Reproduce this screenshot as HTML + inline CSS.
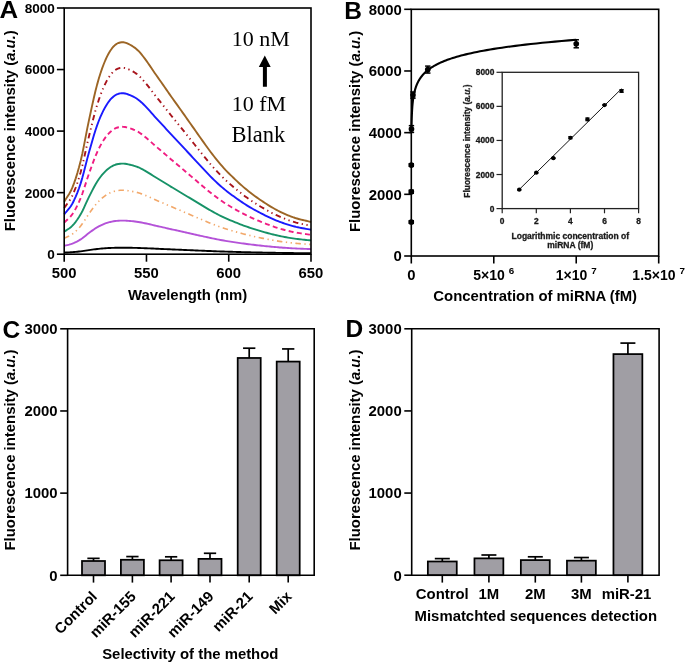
<!DOCTYPE html>
<html><head><meta charset="utf-8"><style>
html,body{margin:0;padding:0;background:#fff;}
body{width:685px;height:662px;overflow:hidden;}
svg{display:block;will-change:transform;}
</style></head><body>
<svg width="685" height="662" viewBox="0 0 685 662" font-family="Liberation Sans, sans-serif">
<rect width="685" height="662" fill="#fff"/>
<g fill="none" stroke-width="1.9" stroke-linejoin="round">
<polyline points="64.20,201.63 65.85,198.99 67.49,196.54 69.14,193.99 70.78,191.05 72.43,187.43 74.07,183.13 75.72,178.37 77.36,173.11 79.01,167.31 80.65,160.93 82.30,153.69 83.94,145.61 85.59,137.12 87.23,128.66 88.88,120.65 90.53,112.99 92.17,105.37 93.82,97.99 95.46,91.01 97.11,84.62 98.75,78.83 100.40,73.52 102.04,68.67 103.69,64.25 105.33,60.24 106.98,56.65 108.62,53.51 110.27,50.78 111.91,48.44 113.56,46.46 115.21,44.89 116.85,43.75 118.50,42.97 120.14,42.48 121.79,42.22 123.43,42.24 125.08,42.59 126.72,43.18 128.37,43.93 130.01,44.77 131.66,45.67 133.30,46.69 134.95,47.86 136.59,49.19 138.24,50.70 139.89,52.43 141.53,54.37 143.18,56.47 144.82,58.65 146.47,60.88 148.11,63.18 149.76,65.59 151.40,68.06 153.05,70.54 154.69,72.96 156.34,75.31 157.98,77.64 159.63,79.96 161.27,82.28 162.92,84.62 164.57,86.98 166.21,89.37 167.86,91.76 169.50,94.14 171.15,96.49 172.79,98.80 174.44,101.09 176.08,103.36 177.73,105.64 179.37,107.94 181.02,110.25 182.66,112.58 184.31,114.92 185.95,117.26 187.60,119.59 189.25,121.93 190.89,124.26 192.54,126.59 194.18,128.92 195.83,131.25 197.47,133.59 199.12,135.94 200.76,138.28 202.41,140.61 204.05,142.91 205.70,145.20 207.34,147.49 208.99,149.75 210.63,151.97 212.28,154.15 213.93,156.27 215.57,158.35 217.22,160.39 218.86,162.38 220.51,164.32 222.15,166.21 223.80,168.06 225.44,169.85 227.09,171.57 228.73,173.22 230.38,174.83 232.02,176.43 233.67,178.02 235.31,179.59 236.96,181.15 238.61,182.68 240.25,184.18 241.90,185.65 243.54,187.09 245.19,188.49 246.83,189.85 248.48,191.17 250.12,192.47 251.77,193.73 253.41,194.97 255.06,196.17 256.70,197.36 258.35,198.52 259.99,199.66 261.64,200.78 263.29,201.89 264.93,202.97 266.58,204.04 268.22,205.08 269.87,206.09 271.51,207.08 273.16,208.05 274.80,208.98 276.45,209.88 278.09,210.74 279.74,211.58 281.38,212.38 283.03,213.15 284.67,213.89 286.32,214.60 287.97,215.28 289.61,215.94 291.26,216.56 292.90,217.17 294.55,217.74 296.19,218.28 297.84,218.76 299.48,219.21 301.13,219.63 302.77,220.03 304.42,220.42 306.06,220.79 307.71,221.18 309.35,221.57 311.00,221.98" stroke="#9c6525"/>
<polyline points="64.20,207.96 65.85,205.63 67.49,203.48 69.14,201.24 70.78,198.65 72.43,195.46 74.07,191.69 75.72,187.50 77.36,182.87 79.01,177.77 80.65,172.16 82.30,165.79 83.94,158.68 85.59,151.21 87.23,143.77 88.88,136.73 90.53,129.98 92.17,123.29 93.82,116.79 95.46,110.65 97.11,105.03 98.75,99.93 100.40,95.26 102.04,91.00 103.69,87.11 105.33,83.58 106.98,80.43 108.62,77.66 110.27,75.26 111.91,73.20 113.56,71.46 115.21,70.09 116.85,69.08 118.50,68.39 120.14,67.96 121.79,67.73 123.43,67.75 125.08,68.06 126.72,68.58 128.37,69.24 130.01,69.97 131.66,70.77 133.30,71.67 134.95,72.69 136.59,73.86 138.24,75.19 139.89,76.72 141.53,78.42 143.18,80.26 144.82,82.19 146.47,84.14 148.11,86.17 149.76,88.29 151.40,90.47 153.05,92.64 154.69,94.77 156.34,96.84 157.98,98.89 159.63,100.93 161.27,102.97 162.92,105.03 164.57,107.11 166.21,109.21 167.86,111.31 169.50,113.40 171.15,115.47 172.79,117.50 174.44,119.52 176.08,121.52 177.73,123.52 179.37,125.54 181.02,127.58 182.66,129.63 184.31,131.68 185.95,133.74 187.60,135.79 189.25,137.85 190.89,139.90 192.54,141.95 194.18,144.00 195.83,146.05 197.47,148.11 199.12,150.17 200.76,152.23 202.41,154.28 204.05,156.31 205.70,158.32 207.34,160.33 208.99,162.32 210.63,164.28 212.28,166.19 213.93,168.06 215.57,169.89 217.22,171.68 218.86,173.43 220.51,175.14 222.15,176.80 223.80,178.42 225.44,180.00 227.09,181.52 228.73,182.97 230.38,184.38 232.02,185.79 233.67,187.19 235.31,188.57 236.96,189.94 238.61,191.28 240.25,192.61 241.90,193.90 243.54,195.17 245.19,196.40 246.83,197.59 248.48,198.76 250.12,199.90 251.77,201.01 253.41,202.09 255.06,203.16 256.70,204.20 258.35,205.22 259.99,206.22 261.64,207.21 263.29,208.18 264.93,209.14 266.58,210.07 268.22,210.99 269.87,211.88 271.51,212.76 273.16,213.60 274.80,214.42 276.45,215.21 278.09,215.97 279.74,216.71 281.38,217.41 283.03,218.09 284.67,218.74 286.32,219.37 287.97,219.97 289.61,220.54 291.26,221.09 292.90,221.62 294.55,222.13 296.19,222.60 297.84,223.03 299.48,223.42 301.13,223.79 302.77,224.14 304.42,224.48 306.06,224.81 307.71,225.15 309.35,225.50 311.00,225.86" stroke="#a8141c" stroke-dasharray="5.5 3.5 1.3 3.5 1.3 3.5"/>
<polyline points="64.20,214.28 65.85,212.27 67.49,210.41 69.14,208.48 70.78,206.24 72.43,203.49 74.07,200.23 75.72,196.62 77.36,192.62 79.01,188.21 80.65,183.37 82.30,177.87 83.94,171.73 85.59,165.29 87.23,158.86 88.88,152.78 90.53,146.96 92.17,141.18 93.82,135.57 95.46,130.27 97.11,125.41 98.75,121.01 100.40,116.98 102.04,113.30 103.69,109.95 105.33,106.90 106.98,104.18 108.62,101.79 110.27,99.71 111.91,97.94 113.56,96.44 115.21,95.25 116.85,94.38 118.50,93.79 120.14,93.41 121.79,93.22 123.43,93.23 125.08,93.49 126.72,93.94 128.37,94.51 130.01,95.15 131.66,95.83 133.30,96.61 134.95,97.50 136.59,98.51 138.24,99.66 139.89,100.97 141.53,102.44 143.18,104.03 144.82,105.69 146.47,107.38 148.11,109.13 149.76,110.96 151.40,112.84 153.05,114.72 154.69,116.56 156.34,118.35 157.98,120.12 159.63,121.87 161.27,123.64 162.92,125.41 164.57,127.21 166.21,129.02 167.86,130.84 169.50,132.64 171.15,134.43 172.79,136.18 174.44,137.92 176.08,139.65 177.73,141.38 179.37,143.12 181.02,144.88 182.66,146.65 184.31,148.43 185.95,150.20 187.60,151.98 189.25,153.75 190.89,155.52 192.54,157.29 194.18,159.06 195.83,160.83 197.47,162.61 199.12,164.39 200.76,166.16 202.41,167.93 204.05,169.68 205.70,171.42 207.34,173.16 208.99,174.88 210.63,176.57 212.28,178.22 213.93,179.83 215.57,181.41 217.22,182.96 218.86,184.47 220.51,185.94 222.15,187.38 223.80,188.78 225.44,190.14 227.09,191.45 228.73,192.70 230.38,193.93 232.02,195.14 233.67,196.35 235.31,197.54 236.96,198.72 238.61,199.88 240.25,201.02 241.90,202.14 243.54,203.23 245.19,204.29 246.83,205.33 248.48,206.33 250.12,207.32 251.77,208.28 253.41,209.22 255.06,210.13 256.70,211.03 258.35,211.91 259.99,212.78 261.64,213.63 263.29,214.47 264.93,215.29 266.58,216.10 268.22,216.89 269.87,217.67 271.51,218.42 273.16,219.15 274.80,219.86 276.45,220.54 278.09,221.20 279.74,221.83 281.38,222.44 283.03,223.02 284.67,223.59 286.32,224.13 287.97,224.64 289.61,225.14 291.26,225.62 292.90,226.07 294.55,226.51 296.19,226.92 297.84,227.29 299.48,227.63 301.13,227.95 302.77,228.25 304.42,228.54 306.06,228.83 307.71,229.12 309.35,229.42 311.00,229.73" stroke="#1a1aff"/>
<polyline points="64.20,222.61 65.85,221.02 67.49,219.55 69.14,218.02 70.78,216.26 72.43,214.08 74.07,211.50 75.72,208.64 77.36,205.47 79.01,201.99 80.65,198.15 82.30,193.80 83.94,188.95 85.59,183.85 87.23,178.76 88.88,173.95 90.53,169.35 92.17,164.77 93.82,160.33 95.46,156.14 97.11,152.30 98.75,148.82 100.40,145.63 102.04,142.71 103.69,140.06 105.33,137.65 106.98,135.49 108.62,133.60 110.27,131.96 111.91,130.56 113.56,129.37 115.21,128.43 116.85,127.74 118.50,127.27 120.14,126.98 121.79,126.82 123.43,126.83 125.08,127.04 126.72,127.40 128.37,127.85 130.01,128.35 131.66,128.89 133.30,129.51 134.95,130.21 136.59,131.01 138.24,131.92 139.89,132.96 141.53,134.12 143.18,135.38 144.82,136.69 146.47,138.03 148.11,139.41 149.76,140.87 151.40,142.35 153.05,143.84 154.69,145.29 156.34,146.71 157.98,148.11 159.63,149.50 161.27,150.89 162.92,152.30 164.57,153.72 166.21,155.15 167.86,156.59 169.50,158.02 171.15,159.43 172.79,160.82 174.44,162.19 176.08,163.56 177.73,164.93 179.37,166.31 181.02,167.70 182.66,169.10 184.31,170.51 185.95,171.91 187.60,173.32 189.25,174.72 190.89,176.12 192.54,177.52 194.18,178.92 195.83,180.32 197.47,181.73 199.12,183.14 200.76,184.54 202.41,185.94 204.05,187.33 205.70,188.70 207.34,190.08 208.99,191.44 210.63,192.77 212.28,194.08 213.93,195.35 215.57,196.61 217.22,197.83 218.86,199.03 220.51,200.19 222.15,201.33 223.80,202.44 225.44,203.51 227.09,204.55 228.73,205.54 230.38,206.51 232.02,207.47 233.67,208.42 235.31,209.37 236.96,210.30 238.61,211.22 240.25,212.12 241.90,213.01 243.54,213.87 245.19,214.71 246.83,215.53 248.48,216.33 250.12,217.10 251.77,217.86 253.41,218.61 255.06,219.33 256.70,220.04 258.35,220.74 259.99,221.43 261.64,222.10 263.29,222.76 264.93,223.42 266.58,224.06 268.22,224.68 269.87,225.29 271.51,225.89 273.16,226.47 274.80,227.03 276.45,227.57 278.09,228.09 279.74,228.59 281.38,229.07 283.03,229.53 284.67,229.98 286.32,230.40 287.97,230.81 289.61,231.21 291.26,231.58 292.90,231.95 294.55,232.29 296.19,232.61 297.84,232.91 299.48,233.18 301.13,233.43 302.77,233.67 304.42,233.90 306.06,234.13 307.71,234.36 309.35,234.59 311.00,234.84" stroke="#f01d82" stroke-dasharray="5 3.3"/>
<polyline points="64.20,231.74 65.85,230.61 67.49,229.56 69.14,228.48 70.78,227.22 72.43,225.67 74.07,223.84 75.72,221.80 77.36,219.55 79.01,217.07 80.65,214.35 82.30,211.25 83.94,207.80 85.59,204.18 87.23,200.56 88.88,197.14 90.53,193.87 92.17,190.61 93.82,187.46 95.46,184.47 97.11,181.74 98.75,179.27 100.40,177.00 102.04,174.93 103.69,173.04 105.33,171.33 106.98,169.80 108.62,168.45 110.27,167.28 111.91,166.28 113.56,165.44 115.21,164.77 116.85,164.28 118.50,163.95 120.14,163.74 121.79,163.63 123.43,163.64 125.08,163.79 126.72,164.04 128.37,164.36 130.01,164.72 131.66,165.10 133.30,165.54 134.95,166.04 136.59,166.61 138.24,167.25 139.89,167.99 141.53,168.82 143.18,169.71 144.82,170.65 146.47,171.60 148.11,172.58 149.76,173.61 151.40,174.67 153.05,175.73 154.69,176.76 156.34,177.77 157.98,178.76 159.63,179.75 161.27,180.74 162.92,181.74 164.57,182.75 166.21,183.77 167.86,184.80 169.50,185.81 171.15,186.82 172.79,187.80 174.44,188.78 176.08,189.75 177.73,190.73 179.37,191.71 181.02,192.70 182.66,193.69 184.31,194.69 185.95,195.69 187.60,196.69 189.25,197.68 190.89,198.68 192.54,199.68 194.18,200.67 195.83,201.67 197.47,202.67 199.12,203.67 200.76,204.67 202.41,205.67 204.05,206.65 205.70,207.63 207.34,208.61 208.99,209.57 210.63,210.52 212.28,211.45 213.93,212.36 215.57,213.25 217.22,214.12 218.86,214.97 220.51,215.80 222.15,216.61 223.80,217.39 225.44,218.16 227.09,218.90 228.73,219.60 230.38,220.29 232.02,220.97 233.67,221.65 235.31,222.32 236.96,222.99 238.61,223.64 240.25,224.28 241.90,224.91 243.54,225.53 245.19,226.12 246.83,226.70 248.48,227.27 250.12,227.82 251.77,228.36 253.41,228.89 255.06,229.41 256.70,229.91 258.35,230.41 259.99,230.90 261.64,231.38 263.29,231.85 264.93,232.31 266.58,232.77 268.22,233.21 269.87,233.65 271.51,234.07 273.16,234.48 274.80,234.88 276.45,235.26 278.09,235.63 279.74,235.99 281.38,236.33 283.03,236.66 284.67,236.98 286.32,237.28 287.97,237.57 289.61,237.85 291.26,238.12 292.90,238.38 294.55,238.62 296.19,238.85 297.84,239.06 299.48,239.25 301.13,239.43 302.77,239.60 304.42,239.77 306.06,239.93 307.71,240.09 309.35,240.26 311.00,240.43" stroke="#179267"/>
<polyline points="64.20,238.33 65.85,237.53 67.49,236.80 69.14,236.03 70.78,235.14 72.43,234.05 74.07,232.75 75.72,231.31 77.36,229.72 79.01,227.97 80.65,226.05 82.30,223.86 83.94,221.42 85.59,218.86 87.23,216.31 88.88,213.89 90.53,211.58 92.17,209.28 93.82,207.05 95.46,204.94 97.11,203.02 98.75,201.27 100.40,199.66 102.04,198.20 103.69,196.87 105.33,195.66 106.98,194.57 108.62,193.63 110.27,192.80 111.91,192.09 113.56,191.50 115.21,191.03 116.85,190.68 118.50,190.45 120.14,190.30 121.79,190.22 123.43,190.22 125.08,190.33 126.72,190.51 128.37,190.73 130.01,190.99 131.66,191.26 133.30,191.57 134.95,191.92 136.59,192.32 138.24,192.78 139.89,193.30 141.53,193.89 143.18,194.52 144.82,195.18 146.47,195.85 148.11,196.54 149.76,197.27 151.40,198.02 153.05,198.77 154.69,199.50 156.34,200.21 157.98,200.91 159.63,201.61 161.27,202.31 162.92,203.02 164.57,203.73 166.21,204.45 167.86,205.17 169.50,205.89 171.15,206.60 172.79,207.30 174.44,207.99 176.08,208.67 177.73,209.36 179.37,210.05 181.02,210.75 182.66,211.46 184.31,212.16 185.95,212.87 187.60,213.57 189.25,214.28 190.89,214.98 192.54,215.68 194.18,216.39 195.83,217.09 197.47,217.80 199.12,218.50 200.76,219.21 202.41,219.91 204.05,220.61 205.70,221.30 207.34,221.99 208.99,222.67 210.63,223.35 212.28,224.00 213.93,224.64 215.57,225.27 217.22,225.89 218.86,226.49 220.51,227.07 222.15,227.64 223.80,228.20 225.44,228.74 227.09,229.26 228.73,229.76 230.38,230.24 232.02,230.73 233.67,231.21 235.31,231.68 236.96,232.15 238.61,232.61 240.25,233.07 241.90,233.51 243.54,233.94 245.19,234.37 246.83,234.78 248.48,235.18 250.12,235.57 251.77,235.95 253.41,236.32 255.06,236.69 256.70,237.04 258.35,237.39 259.99,237.74 261.64,238.08 263.29,238.41 264.93,238.74 266.58,239.06 268.22,239.37 269.87,239.68 271.51,239.98 273.16,240.27 274.80,240.55 276.45,240.82 278.09,241.08 279.74,241.34 281.38,241.58 283.03,241.81 284.67,242.03 286.32,242.25 287.97,242.45 289.61,242.65 291.26,242.84 292.90,243.02 294.55,243.20 296.19,243.36 297.84,243.50 299.48,243.64 301.13,243.77 302.77,243.89 304.42,244.00 306.06,244.12 307.71,244.23 309.35,244.35 311.00,244.47" stroke="#f2a86a" stroke-dasharray="5.5 3.5 1.3 3.5 1.3 3.5" stroke-width="1.65"/>
<polyline points="64.20,245.87 65.85,245.45 67.49,245.06 69.14,244.66 70.78,244.19 72.43,243.61 74.07,242.93 75.72,242.18 77.36,241.34 79.01,240.42 80.65,239.41 82.30,238.27 83.94,236.98 85.59,235.64 87.23,234.30 88.88,233.03 90.53,231.81 92.17,230.61 93.82,229.43 95.46,228.33 97.11,227.31 98.75,226.40 100.40,225.56 102.04,224.79 103.69,224.09 105.33,223.45 106.98,222.88 108.62,222.38 110.27,221.95 111.91,221.58 113.56,221.27 115.21,221.02 116.85,220.84 118.50,220.71 120.14,220.64 121.79,220.59 123.43,220.60 125.08,220.65 126.72,220.75 128.37,220.86 130.01,221.00 131.66,221.14 133.30,221.30 134.95,221.49 136.59,221.70 138.24,221.94 139.89,222.21 141.53,222.52 143.18,222.85 144.82,223.20 146.47,223.55 148.11,223.92 149.76,224.30 151.40,224.69 153.05,225.08 154.69,225.47 156.34,225.84 157.98,226.21 159.63,226.58 161.27,226.94 162.92,227.31 164.57,227.69 166.21,228.07 167.86,228.45 169.50,228.82 171.15,229.20 172.79,229.56 174.44,229.93 176.08,230.29 177.73,230.65 179.37,231.01 181.02,231.38 182.66,231.75 184.31,232.12 185.95,232.49 187.60,232.86 189.25,233.23 190.89,233.60 192.54,233.97 194.18,234.34 195.83,234.71 197.47,235.08 199.12,235.45 200.76,235.82 202.41,236.19 204.05,236.56 205.70,236.92 207.34,237.28 208.99,237.64 210.63,237.99 212.28,238.34 213.93,238.67 215.57,239.00 217.22,239.33 218.86,239.64 220.51,239.95 222.15,240.25 223.80,240.54 225.44,240.83 227.09,241.10 228.73,241.36 230.38,241.62 232.02,241.87 233.67,242.12 235.31,242.37 236.96,242.62 238.61,242.86 240.25,243.10 241.90,243.33 243.54,243.56 245.19,243.78 246.83,244.00 248.48,244.21 250.12,244.41 251.77,244.61 253.41,244.81 255.06,245.00 256.70,245.19 258.35,245.37 259.99,245.55 261.64,245.73 263.29,245.91 264.93,246.08 266.58,246.25 268.22,246.41 269.87,246.57 271.51,246.73 273.16,246.88 274.80,247.03 276.45,247.17 278.09,247.31 279.74,247.44 281.38,247.57 283.03,247.69 284.67,247.81 286.32,247.92 287.97,248.03 289.61,248.13 291.26,248.23 292.90,248.33 294.55,248.42 296.19,248.50 297.84,248.58 299.48,248.65 301.13,248.72 302.77,248.78 304.42,248.84 306.06,248.90 307.71,248.96 309.35,249.03 311.00,249.09" stroke="#b452d8"/>
<polyline points="64.20,252.59 65.85,252.51 67.49,252.43 69.14,252.36 70.78,252.27 72.43,252.15 74.07,252.02 75.72,251.88 77.36,251.72 79.01,251.54 80.65,251.34 82.30,251.12 83.94,250.87 85.59,250.61 87.23,250.35 88.88,250.11 90.53,249.87 92.17,249.64 93.82,249.41 95.46,249.20 97.11,249.01 98.75,248.83 100.40,248.67 102.04,248.52 103.69,248.38 105.33,248.26 106.98,248.15 108.62,248.05 110.27,247.97 111.91,247.90 113.56,247.84 115.21,247.79 116.85,247.75 118.50,247.73 120.14,247.71 121.79,247.71 123.43,247.71 125.08,247.72 126.72,247.74 128.37,247.76 130.01,247.78 131.66,247.81 133.30,247.84 134.95,247.88 136.59,247.92 138.24,247.97 139.89,248.02 141.53,248.08 143.18,248.14 144.82,248.21 146.47,248.28 148.11,248.35 149.76,248.42 151.40,248.50 153.05,248.57 154.69,248.65 156.34,248.72 157.98,248.79 159.63,248.86 161.27,248.93 162.92,249.01 164.57,249.08 166.21,249.15 167.86,249.22 169.50,249.30 171.15,249.37 172.79,249.44 174.44,249.51 176.08,249.58 177.73,249.65 179.37,249.72 181.02,249.79 182.66,249.86 184.31,249.93 185.95,250.01 187.60,250.08 189.25,250.15 190.89,250.22 192.54,250.29 194.18,250.36 195.83,250.43 197.47,250.51 199.12,250.58 200.76,250.65 202.41,250.72 204.05,250.79 205.70,250.86 207.34,250.93 208.99,251.00 210.63,251.07 212.28,251.14 213.93,251.20 215.57,251.26 217.22,251.33 218.86,251.39 220.51,251.45 222.15,251.50 223.80,251.56 225.44,251.62 227.09,251.67 228.73,251.72 230.38,251.77 232.02,251.82 233.67,251.87 235.31,251.91 236.96,251.96 238.61,252.01 240.25,252.06 241.90,252.10 243.54,252.14 245.19,252.19 246.83,252.23 248.48,252.27 250.12,252.31 251.77,252.35 253.41,252.39 255.06,252.42 256.70,252.46 258.35,252.49 259.99,252.53 261.64,252.56 263.29,252.60 264.93,252.63 266.58,252.66 268.22,252.70 269.87,252.73 271.51,252.76 273.16,252.79 274.80,252.81 276.45,252.84 278.09,252.87 279.74,252.89 281.38,252.92 283.03,252.94 284.67,252.97 286.32,252.99 287.97,253.01 289.61,253.03 291.26,253.05 292.90,253.07 294.55,253.08 296.19,253.10 297.84,253.11 299.48,253.13 301.13,253.14 302.77,253.15 304.42,253.17 306.06,253.18 307.71,253.19 309.35,253.20 311.00,253.21" stroke="#000000"/>
</g>
<rect x="64.2" y="8.0" width="246.80" height="246.20" fill="none" stroke="#000" stroke-width="1.6"/>
<line x1="56.9" x2="64.2" y1="254.20" y2="254.20" stroke="#000" stroke-width="1.6"/>
<text x="54.9" y="259.10" text-anchor="end" font-size="13.6" font-family="Liberation Sans, sans-serif" font-weight="bold">0</text>
<line x1="56.9" x2="64.2" y1="192.65" y2="192.65" stroke="#000" stroke-width="1.6"/>
<text x="54.9" y="197.55" text-anchor="end" font-size="13.6" font-family="Liberation Sans, sans-serif" font-weight="bold">2000</text>
<line x1="56.9" x2="64.2" y1="131.10" y2="131.10" stroke="#000" stroke-width="1.6"/>
<text x="54.9" y="136.00" text-anchor="end" font-size="13.6" font-family="Liberation Sans, sans-serif" font-weight="bold">4000</text>
<line x1="56.9" x2="64.2" y1="69.55" y2="69.55" stroke="#000" stroke-width="1.6"/>
<text x="54.9" y="74.45" text-anchor="end" font-size="13.6" font-family="Liberation Sans, sans-serif" font-weight="bold">6000</text>
<line x1="56.9" x2="64.2" y1="8.00" y2="8.00" stroke="#000" stroke-width="1.6"/>
<text x="54.9" y="12.90" text-anchor="end" font-size="13.6" font-family="Liberation Sans, sans-serif" font-weight="bold">8000</text>
<line x1="64.20" x2="64.20" y1="254.2" y2="261.7" stroke="#000" stroke-width="1.6"/>
<text x="64.20" y="278" text-anchor="middle" font-size="14.85" font-family="Liberation Sans, sans-serif" font-weight="bold">500</text>
<line x1="146.47" x2="146.47" y1="254.2" y2="261.7" stroke="#000" stroke-width="1.6"/>
<text x="146.47" y="278" text-anchor="middle" font-size="14.85" font-family="Liberation Sans, sans-serif" font-weight="bold">550</text>
<line x1="228.73" x2="228.73" y1="254.2" y2="261.7" stroke="#000" stroke-width="1.6"/>
<text x="228.73" y="278" text-anchor="middle" font-size="14.85" font-family="Liberation Sans, sans-serif" font-weight="bold">600</text>
<line x1="311.00" x2="311.00" y1="254.2" y2="261.7" stroke="#000" stroke-width="1.6"/>
<text x="311.00" y="278" text-anchor="middle" font-size="14.85" font-family="Liberation Sans, sans-serif" font-weight="bold">650</text>
<text x="187.6" y="300.2" text-anchor="middle" font-size="14.9" font-family="Liberation Sans, sans-serif" font-weight="bold">Wavelength (nm)</text>
<text transform="translate(15.1,130.75) rotate(-90)" text-anchor="middle" font-size="14.9" font-family="Liberation Sans, sans-serif" font-weight="bold">Fluorescence intensity (<tspan font-style="italic">a.u.</tspan>)</text>
<text transform="translate(-0.45,17.5) scale(1.108,1)" font-size="23.3" font-family="Liberation Sans, sans-serif" font-weight="bold">A</text>
<text x="231.8" y="45.9" font-size="22" font-family="Liberation Serif, serif">10 nM</text>
<text x="231.8" y="111.4" font-size="22" font-family="Liberation Serif, serif">10 fM</text>
<text x="231.5" y="142" font-size="22.5" font-family="Liberation Serif, serif">Blank</text>
<path d="M264.8,55.4 L270.7,67.1 L266.9,67.1 L266.9,86.7 L262.9,86.7 L262.9,67.1 L258.8,67.1 Z" fill="#000"/>
<polyline points="411.46,130.96 411.47,130.35 411.48,129.74 411.49,129.14 411.50,128.53 411.51,127.92 411.52,127.31 411.53,126.70 411.54,126.10 411.55,125.49 411.56,124.88 411.57,124.27 411.59,123.66 411.60,123.06 411.61,122.45 411.63,121.84 411.64,121.23 411.66,120.63 411.68,120.02 411.70,119.41 411.71,118.80 411.73,118.19 411.75,117.59 411.78,116.98 411.80,116.37 411.82,115.76 411.85,115.15 411.87,114.55 411.90,113.94 411.93,113.33 411.96,112.72 411.99,112.11 412.02,111.51 412.05,110.90 412.09,110.29 412.13,109.68 412.17,109.07 412.21,108.47 412.25,107.86 412.29,107.25 412.34,106.64 412.39,106.03 412.44,105.43 412.49,104.82 412.55,104.21 412.61,103.60 412.67,103.00 412.74,102.39 412.80,101.78 412.88,101.17 412.95,100.56 413.03,99.96 413.11,99.35 413.19,98.74 413.28,98.13 413.38,97.52 413.47,96.92 413.58,96.31 413.68,95.70 413.80,95.09 413.91,94.48 414.04,93.88 414.17,93.27 414.30,92.66 414.44,92.05 414.59,91.44 414.75,90.84 414.91,90.23 415.08,89.62 415.26,89.01 415.44,88.40 415.64,87.80 415.84,87.19 416.06,86.58 416.28,85.97 416.52,85.37 416.76,84.76 417.02,84.15 417.29,83.54 417.57,82.93 417.87,82.33 418.18,81.72 418.50,81.11 418.84,80.50 419.19,79.89 419.57,79.29 419.96,78.68 420.36,78.07 420.79,77.46 421.24,76.85 421.71,76.25 422.20,75.64 422.71,75.03 423.25,74.42 423.81,73.81 424.40,73.21 425.02,72.60 425.67,71.99 426.34,71.38 427.05,70.77 427.79,70.17 428.57,69.56 429.38,68.95 430.24,68.34 431.13,67.74 432.06,67.13 433.04,66.52 434.07,65.91 435.14,65.30 436.26,64.70 437.44,64.09 438.67,63.48 439.96,62.87 441.31,62.26 442.73,61.66 444.21,61.05 445.76,60.44 447.38,59.83 449.08,59.22 450.86,58.62 452.73,58.01 454.68,57.40 456.73,56.79 458.87,56.18 461.11,55.58 463.46,54.97 465.91,54.36 468.49,53.75 471.18,53.15 474.01,52.54 476.96,51.93 480.06,51.32 483.30,50.71 486.69,50.11 490.24,49.50 493.96,48.89 497.86,48.28 501.94,47.67 506.21,47.07 510.68,46.46 515.37,45.85 520.27,45.24 525.41,44.63 530.78,44.03 536.41,43.42 542.31,42.81 548.49,42.20 554.95,41.59 561.72,40.99 568.81,40.38 576.23,39.77" fill="none" stroke="#000" stroke-width="2.1"/>
<line x1="411.30" x2="411.30" y1="220.78" y2="223.25" stroke="#000" stroke-width="1.5"/>
<line x1="408.60" x2="414.00" y1="220.78" y2="220.78" stroke="#000" stroke-width="1.5"/>
<line x1="408.60" x2="414.00" y1="223.25" y2="223.25" stroke="#000" stroke-width="1.5"/>
<circle cx="411.30" cy="222.02" r="2.85" fill="#000"/>
<line x1="411.30" x2="411.30" y1="190.19" y2="193.28" stroke="#000" stroke-width="1.5"/>
<line x1="408.60" x2="414.00" y1="190.19" y2="190.19" stroke="#000" stroke-width="1.5"/>
<line x1="408.60" x2="414.00" y1="193.28" y2="193.28" stroke="#000" stroke-width="1.5"/>
<circle cx="411.30" cy="191.73" r="2.85" fill="#000"/>
<line x1="411.32" x2="411.32" y1="163.80" y2="166.26" stroke="#000" stroke-width="1.5"/>
<line x1="408.62" x2="414.02" y1="163.80" y2="163.80" stroke="#000" stroke-width="1.5"/>
<line x1="408.62" x2="414.02" y1="166.26" y2="166.26" stroke="#000" stroke-width="1.5"/>
<circle cx="411.32" cy="165.03" r="2.85" fill="#000"/>
<line x1="411.46" x2="411.46" y1="125.65" y2="132.43" stroke="#000" stroke-width="1.5"/>
<line x1="408.76" x2="414.16" y1="125.65" y2="125.65" stroke="#000" stroke-width="1.5"/>
<line x1="408.76" x2="414.16" y1="132.43" y2="132.43" stroke="#000" stroke-width="1.5"/>
<circle cx="411.46" cy="129.04" r="2.85" fill="#000"/>
<line x1="412.95" x2="412.95" y1="91.98" y2="98.14" stroke="#000" stroke-width="1.5"/>
<line x1="410.25" x2="415.65" y1="91.98" y2="91.98" stroke="#000" stroke-width="1.5"/>
<line x1="410.25" x2="415.65" y1="98.14" y2="98.14" stroke="#000" stroke-width="1.5"/>
<circle cx="412.95" cy="95.06" r="2.85" fill="#000"/>
<line x1="427.79" x2="427.79" y1="66.10" y2="73.07" stroke="#000" stroke-width="1.5"/>
<line x1="425.09" x2="430.49" y1="66.10" y2="66.10" stroke="#000" stroke-width="1.5"/>
<line x1="425.09" x2="430.49" y1="73.07" y2="73.07" stroke="#000" stroke-width="1.5"/>
<circle cx="427.79" cy="69.59" r="2.85" fill="#000"/>
<line x1="576.23" x2="576.23" y1="39.77" y2="47.79" stroke="#000" stroke-width="1.5"/>
<line x1="573.53" x2="578.93" y1="39.77" y2="39.77" stroke="#000" stroke-width="1.5"/>
<line x1="573.53" x2="578.93" y1="47.79" y2="47.79" stroke="#000" stroke-width="1.5"/>
<circle cx="576.23" cy="43.78" r="2.85" fill="#000"/>
<rect x="411.3" y="9.3" width="247.40" height="246.70" fill="none" stroke="#000" stroke-width="1.6"/>
<line x1="404.2" x2="411.3" y1="256.00" y2="256.00" stroke="#000" stroke-width="1.6"/>
<text x="401.8" y="261.30" text-anchor="end" font-size="14.9" font-family="Liberation Sans, sans-serif" font-weight="bold">0</text>
<line x1="404.2" x2="411.3" y1="194.32" y2="194.32" stroke="#000" stroke-width="1.6"/>
<text x="401.8" y="199.62" text-anchor="end" font-size="14.9" font-family="Liberation Sans, sans-serif" font-weight="bold">2000</text>
<line x1="404.2" x2="411.3" y1="132.65" y2="132.65" stroke="#000" stroke-width="1.6"/>
<text x="401.8" y="137.95" text-anchor="end" font-size="14.9" font-family="Liberation Sans, sans-serif" font-weight="bold">4000</text>
<line x1="404.2" x2="411.3" y1="70.98" y2="70.98" stroke="#000" stroke-width="1.6"/>
<text x="401.8" y="76.28" text-anchor="end" font-size="14.9" font-family="Liberation Sans, sans-serif" font-weight="bold">6000</text>
<line x1="404.2" x2="411.3" y1="9.30" y2="9.30" stroke="#000" stroke-width="1.6"/>
<text x="401.8" y="14.60" text-anchor="end" font-size="14.9" font-family="Liberation Sans, sans-serif" font-weight="bold">8000</text>
<line x1="411.30" x2="411.30" y1="256.0" y2="263.5" stroke="#000" stroke-width="1.6"/>
<text x="411.30" y="279.6" text-anchor="middle" font-size="14.85" font-family="Liberation Sans, sans-serif" font-weight="bold">0</text>
<line x1="493.77" x2="493.77" y1="256.0" y2="263.5" stroke="#000" stroke-width="1.6"/>
<text x="493.77" y="279.6" text-anchor="middle" font-size="14.0" font-family="Liberation Sans, sans-serif" font-weight="bold">5×10<tspan font-size="9.8" dx="4" dy="-5.7">6</tspan></text>
<line x1="576.23" x2="576.23" y1="256.0" y2="263.5" stroke="#000" stroke-width="1.6"/>
<text x="576.23" y="279.6" text-anchor="middle" font-size="14.0" font-family="Liberation Sans, sans-serif" font-weight="bold">1×10<tspan font-size="9.8" dx="4" dy="-5.7">7</tspan></text>
<line x1="658.70" x2="658.70" y1="256.0" y2="263.5" stroke="#000" stroke-width="1.6"/>
<text x="658.70" y="279.6" text-anchor="middle" font-size="14.0" font-family="Liberation Sans, sans-serif" font-weight="bold">1.5×10<tspan font-size="9.8" dx="4" dy="-5.7">7</tspan></text>
<text x="535.2" y="301.4" text-anchor="middle" font-size="14.9" font-family="Liberation Sans, sans-serif" font-weight="bold">Concentration of miRNA (fM)</text>
<text transform="translate(359.8,131.45) rotate(-90)" text-anchor="middle" font-size="14.9" font-family="Liberation Sans, sans-serif" font-weight="bold">Fluorescence intensity (<tspan font-style="italic">a.u.</tspan>)</text>
<text x="344.3" y="18.8" font-size="24.5" font-family="Liberation Sans, sans-serif" font-weight="bold">B</text>
<line x1="519.25" y1="189.49" x2="621.55" y2="88.73" stroke="#111" stroke-width="1"/>
<line x1="519.25" x2="519.25" y1="189.21" y2="190.23" stroke="#000" stroke-width="1"/>
<line x1="517.05" x2="521.45" y1="189.21" y2="189.21" stroke="#000" stroke-width="1"/>
<line x1="517.05" x2="521.45" y1="190.23" y2="190.23" stroke="#000" stroke-width="1"/>
<circle cx="519.25" cy="189.72" r="2.1" fill="#000"/>
<line x1="536.30" x2="536.30" y1="172.21" y2="173.23" stroke="#000" stroke-width="1"/>
<line x1="534.10" x2="538.50" y1="172.21" y2="172.21" stroke="#000" stroke-width="1"/>
<line x1="534.10" x2="538.50" y1="173.23" y2="173.23" stroke="#000" stroke-width="1"/>
<circle cx="536.30" cy="172.72" r="2.1" fill="#000"/>
<line x1="553.35" x2="553.35" y1="157.62" y2="158.65" stroke="#000" stroke-width="1"/>
<line x1="551.15" x2="555.55" y1="157.62" y2="157.62" stroke="#000" stroke-width="1"/>
<line x1="551.15" x2="555.55" y1="158.65" y2="158.65" stroke="#000" stroke-width="1"/>
<circle cx="553.35" cy="158.13" r="2.1" fill="#000"/>
<line x1="570.40" x2="570.40" y1="136.74" y2="138.78" stroke="#000" stroke-width="1"/>
<line x1="568.20" x2="572.60" y1="136.74" y2="136.74" stroke="#000" stroke-width="1"/>
<line x1="568.20" x2="572.60" y1="138.78" y2="138.78" stroke="#000" stroke-width="1"/>
<circle cx="570.40" cy="137.76" r="2.1" fill="#000"/>
<line x1="587.45" x2="587.45" y1="118.01" y2="120.74" stroke="#000" stroke-width="1"/>
<line x1="585.25" x2="589.65" y1="118.01" y2="118.01" stroke="#000" stroke-width="1"/>
<line x1="585.25" x2="589.65" y1="120.74" y2="120.74" stroke="#000" stroke-width="1"/>
<circle cx="587.45" cy="119.37" r="2.1" fill="#000"/>
<line x1="604.50" x2="604.50" y1="104.57" y2="105.59" stroke="#000" stroke-width="1"/>
<line x1="602.30" x2="606.70" y1="104.57" y2="104.57" stroke="#000" stroke-width="1"/>
<line x1="602.30" x2="606.70" y1="105.59" y2="105.59" stroke="#000" stroke-width="1"/>
<circle cx="604.50" cy="105.08" r="2.1" fill="#000"/>
<line x1="621.55" x2="621.55" y1="89.63" y2="92.35" stroke="#000" stroke-width="1"/>
<line x1="619.35" x2="623.75" y1="89.63" y2="89.63" stroke="#000" stroke-width="1"/>
<line x1="619.35" x2="623.75" y1="92.35" y2="92.35" stroke="#000" stroke-width="1"/>
<circle cx="621.55" cy="90.99" r="2.1" fill="#000"/>
<rect x="502.2" y="72.3" width="136.40" height="136.30" fill="none" stroke="#222" stroke-width="1.3"/>
<line x1="496.5" x2="502.2" y1="208.60" y2="208.60" stroke="#222" stroke-width="1.2"/>
<text x="494.4" y="211.60" text-anchor="end" font-size="8.4" fill="#1a1a1a" stroke="#1a1a1a" stroke-width="0.3" font-family="Liberation Sans, sans-serif" font-weight="bold">0</text>
<line x1="496.5" x2="502.2" y1="174.52" y2="174.52" stroke="#222" stroke-width="1.2"/>
<text x="494.4" y="177.52" text-anchor="end" font-size="8.4" fill="#1a1a1a" stroke="#1a1a1a" stroke-width="0.3" font-family="Liberation Sans, sans-serif" font-weight="bold">2000</text>
<line x1="496.5" x2="502.2" y1="140.45" y2="140.45" stroke="#222" stroke-width="1.2"/>
<text x="494.4" y="143.45" text-anchor="end" font-size="8.4" fill="#1a1a1a" stroke="#1a1a1a" stroke-width="0.3" font-family="Liberation Sans, sans-serif" font-weight="bold">4000</text>
<line x1="496.5" x2="502.2" y1="106.37" y2="106.37" stroke="#222" stroke-width="1.2"/>
<text x="494.4" y="109.37" text-anchor="end" font-size="8.4" fill="#1a1a1a" stroke="#1a1a1a" stroke-width="0.3" font-family="Liberation Sans, sans-serif" font-weight="bold">6000</text>
<line x1="496.5" x2="502.2" y1="72.30" y2="72.30" stroke="#222" stroke-width="1.2"/>
<text x="494.4" y="75.30" text-anchor="end" font-size="8.4" fill="#1a1a1a" stroke="#1a1a1a" stroke-width="0.3" font-family="Liberation Sans, sans-serif" font-weight="bold">8000</text>
<line x1="502.20" x2="502.20" y1="208.6" y2="213.3" stroke="#222" stroke-width="1.2"/>
<text x="502.20" y="224.2" text-anchor="middle" font-size="8.4" fill="#1a1a1a" stroke="#1a1a1a" stroke-width="0.3" font-family="Liberation Sans, sans-serif" font-weight="bold">0</text>
<line x1="536.30" x2="536.30" y1="208.6" y2="213.3" stroke="#222" stroke-width="1.2"/>
<text x="536.30" y="224.2" text-anchor="middle" font-size="8.4" fill="#1a1a1a" stroke="#1a1a1a" stroke-width="0.3" font-family="Liberation Sans, sans-serif" font-weight="bold">2</text>
<line x1="570.40" x2="570.40" y1="208.6" y2="213.3" stroke="#222" stroke-width="1.2"/>
<text x="570.40" y="224.2" text-anchor="middle" font-size="8.4" fill="#1a1a1a" stroke="#1a1a1a" stroke-width="0.3" font-family="Liberation Sans, sans-serif" font-weight="bold">4</text>
<line x1="604.50" x2="604.50" y1="208.6" y2="213.3" stroke="#222" stroke-width="1.2"/>
<text x="604.50" y="224.2" text-anchor="middle" font-size="8.4" fill="#1a1a1a" stroke="#1a1a1a" stroke-width="0.3" font-family="Liberation Sans, sans-serif" font-weight="bold">6</text>
<line x1="638.60" x2="638.60" y1="208.6" y2="213.3" stroke="#222" stroke-width="1.2"/>
<text x="638.60" y="224.2" text-anchor="middle" font-size="8.4" fill="#1a1a1a" stroke="#1a1a1a" stroke-width="0.3" font-family="Liberation Sans, sans-serif" font-weight="bold">8</text>
<text x="570.3" y="238.7" text-anchor="middle" font-size="8.5" fill="#1a1a1a" stroke="#1a1a1a" stroke-width="0.3" font-family="Liberation Sans, sans-serif" font-weight="bold">Logarithmic concentration of</text>
<text x="570.3" y="248.2" text-anchor="middle" font-size="8.5" fill="#1a1a1a" stroke="#1a1a1a" stroke-width="0.3" font-family="Liberation Sans, sans-serif" font-weight="bold">miRNA (fM)</text>
<text transform="translate(470,141.1) rotate(-90)" text-anchor="middle" font-size="8.4" fill="#1a1a1a" stroke="#1a1a1a" stroke-width="0.3" font-family="Liberation Sans, sans-serif" font-weight="bold">Fluorescence intensity (<tspan font-style="italic">a.u.</tspan>)</text>
<line x1="93.50" x2="93.50" y1="561.00" y2="558.37" stroke="#000" stroke-width="1.7"/>
<line x1="87.35" x2="99.65" y1="558.37" y2="558.37" stroke="#000" stroke-width="1.7"/>
<rect x="82.00" y="561.00" width="23.00" height="14.30" fill="#a09ea4" stroke="#000" stroke-width="1.75"/>
<line x1="132.40" x2="132.40" y1="559.77" y2="556.57" stroke="#000" stroke-width="1.7"/>
<line x1="126.25" x2="138.55" y1="556.57" y2="556.57" stroke="#000" stroke-width="1.7"/>
<rect x="120.90" y="559.77" width="23.00" height="15.53" fill="#a09ea4" stroke="#000" stroke-width="1.75"/>
<line x1="171.10" x2="171.10" y1="560.26" y2="556.81" stroke="#000" stroke-width="1.7"/>
<line x1="164.95" x2="177.25" y1="556.81" y2="556.81" stroke="#000" stroke-width="1.7"/>
<rect x="159.60" y="560.26" width="23.00" height="15.04" fill="#a09ea4" stroke="#000" stroke-width="1.75"/>
<line x1="210.00" x2="210.00" y1="558.87" y2="553.28" stroke="#000" stroke-width="1.7"/>
<line x1="203.85" x2="216.15" y1="553.28" y2="553.28" stroke="#000" stroke-width="1.7"/>
<rect x="198.50" y="558.87" width="23.00" height="16.43" fill="#a09ea4" stroke="#000" stroke-width="1.75"/>
<line x1="249.20" x2="249.20" y1="357.97" y2="348.19" stroke="#000" stroke-width="1.7"/>
<line x1="243.05" x2="255.35" y1="348.19" y2="348.19" stroke="#000" stroke-width="1.7"/>
<rect x="237.70" y="357.97" width="23.00" height="217.33" fill="#a09ea4" stroke="#000" stroke-width="1.75"/>
<line x1="288.20" x2="288.20" y1="361.58" y2="348.93" stroke="#000" stroke-width="1.7"/>
<line x1="282.05" x2="294.35" y1="348.93" y2="348.93" stroke="#000" stroke-width="1.7"/>
<rect x="276.70" y="361.58" width="23.00" height="213.72" fill="#a09ea4" stroke="#000" stroke-width="1.75"/>
<path d="M67.6,575.3 V328.8 H314.2 V575.3 Z" fill="none" stroke="#000" stroke-width="1.6"/>
<line x1="60.20" x2="67.6" y1="575.30" y2="575.30" stroke="#000" stroke-width="1.6"/>
<text x="57.60" y="580.60" text-anchor="end" font-size="14.9" font-family="Liberation Sans, sans-serif" font-weight="bold">0</text>
<line x1="60.20" x2="67.6" y1="493.13" y2="493.13" stroke="#000" stroke-width="1.6"/>
<text x="57.60" y="498.43" text-anchor="end" font-size="14.9" font-family="Liberation Sans, sans-serif" font-weight="bold">1000</text>
<line x1="60.20" x2="67.6" y1="410.97" y2="410.97" stroke="#000" stroke-width="1.6"/>
<text x="57.60" y="416.27" text-anchor="end" font-size="14.9" font-family="Liberation Sans, sans-serif" font-weight="bold">2000</text>
<line x1="60.20" x2="67.6" y1="328.80" y2="328.80" stroke="#000" stroke-width="1.6"/>
<text x="57.60" y="334.10" text-anchor="end" font-size="14.9" font-family="Liberation Sans, sans-serif" font-weight="bold">3000</text>
<line x1="93.50" x2="93.50" y1="575.3" y2="582.6" stroke="#000" stroke-width="1.6"/>
<text transform="translate(98.00,597.50) rotate(-45)" text-anchor="end" font-size="14.9" font-family="Liberation Sans, sans-serif" font-weight="bold">Control</text>
<line x1="132.40" x2="132.40" y1="575.3" y2="582.6" stroke="#000" stroke-width="1.6"/>
<text transform="translate(136.90,597.50) rotate(-45)" text-anchor="end" font-size="14.9" font-family="Liberation Sans, sans-serif" font-weight="bold">miR-155</text>
<line x1="171.10" x2="171.10" y1="575.3" y2="582.6" stroke="#000" stroke-width="1.6"/>
<text transform="translate(175.60,597.50) rotate(-45)" text-anchor="end" font-size="14.9" font-family="Liberation Sans, sans-serif" font-weight="bold">miR-221</text>
<line x1="210.00" x2="210.00" y1="575.3" y2="582.6" stroke="#000" stroke-width="1.6"/>
<text transform="translate(214.50,597.50) rotate(-45)" text-anchor="end" font-size="14.9" font-family="Liberation Sans, sans-serif" font-weight="bold">miR-149</text>
<line x1="249.20" x2="249.20" y1="575.3" y2="582.6" stroke="#000" stroke-width="1.6"/>
<text transform="translate(253.70,597.50) rotate(-45)" text-anchor="end" font-size="14.9" font-family="Liberation Sans, sans-serif" font-weight="bold">miR-21</text>
<line x1="288.20" x2="288.20" y1="575.3" y2="582.6" stroke="#000" stroke-width="1.6"/>
<text transform="translate(292.70,597.50) rotate(-45)" text-anchor="end" font-size="14.9" font-family="Liberation Sans, sans-serif" font-weight="bold">Mix</text>
<text x="190.3" y="658.8" text-anchor="middle" font-size="14.9" font-family="Liberation Sans, sans-serif" font-weight="bold">Selectivity of the method</text>
<text transform="translate(15.1,450.0) rotate(-90)" text-anchor="middle" font-size="14.9" font-family="Liberation Sans, sans-serif" font-weight="bold">Fluorescence intensity (<tspan font-style="italic">a.u.</tspan>)</text>
<text x="2.5" y="337.8" font-size="24.5" font-family="Liberation Sans, sans-serif" font-weight="bold">C</text>
<line x1="442.30" x2="442.30" y1="561.48" y2="558.61" stroke="#000" stroke-width="1.7"/>
<line x1="434.80" x2="449.80" y1="558.61" y2="558.61" stroke="#000" stroke-width="1.7"/>
<rect x="427.85" y="561.48" width="28.90" height="13.72" fill="#a09ea4" stroke="#000" stroke-width="1.75"/>
<line x1="488.90" x2="488.90" y1="558.36" y2="555.00" stroke="#000" stroke-width="1.7"/>
<line x1="481.40" x2="496.40" y1="555.00" y2="555.00" stroke="#000" stroke-width="1.7"/>
<rect x="474.45" y="558.36" width="28.90" height="16.84" fill="#a09ea4" stroke="#000" stroke-width="1.75"/>
<line x1="535.30" x2="535.30" y1="560.09" y2="556.80" stroke="#000" stroke-width="1.7"/>
<line x1="527.80" x2="542.80" y1="556.80" y2="556.80" stroke="#000" stroke-width="1.7"/>
<rect x="520.85" y="560.09" width="28.90" height="15.11" fill="#a09ea4" stroke="#000" stroke-width="1.75"/>
<line x1="581.40" x2="581.40" y1="560.66" y2="557.54" stroke="#000" stroke-width="1.7"/>
<line x1="573.90" x2="588.90" y1="557.54" y2="557.54" stroke="#000" stroke-width="1.7"/>
<rect x="566.95" y="560.66" width="28.90" height="14.54" fill="#a09ea4" stroke="#000" stroke-width="1.75"/>
<line x1="627.90" x2="627.90" y1="354.10" y2="343.09" stroke="#000" stroke-width="1.7"/>
<line x1="620.40" x2="635.40" y1="343.09" y2="343.09" stroke="#000" stroke-width="1.7"/>
<rect x="613.45" y="354.10" width="28.90" height="221.10" fill="#a09ea4" stroke="#000" stroke-width="1.75"/>
<path d="M411.7,575.2 V328.8 H659.1 V575.2 Z" fill="none" stroke="#000" stroke-width="1.6"/>
<line x1="404.30" x2="411.7" y1="575.20" y2="575.20" stroke="#000" stroke-width="1.6"/>
<text x="401.70" y="580.50" text-anchor="end" font-size="14.9" font-family="Liberation Sans, sans-serif" font-weight="bold">0</text>
<line x1="404.30" x2="411.7" y1="493.07" y2="493.07" stroke="#000" stroke-width="1.6"/>
<text x="401.70" y="498.37" text-anchor="end" font-size="14.9" font-family="Liberation Sans, sans-serif" font-weight="bold">1000</text>
<line x1="404.30" x2="411.7" y1="410.93" y2="410.93" stroke="#000" stroke-width="1.6"/>
<text x="401.70" y="416.23" text-anchor="end" font-size="14.9" font-family="Liberation Sans, sans-serif" font-weight="bold">2000</text>
<line x1="404.30" x2="411.7" y1="328.80" y2="328.80" stroke="#000" stroke-width="1.6"/>
<text x="401.70" y="334.10" text-anchor="end" font-size="14.9" font-family="Liberation Sans, sans-serif" font-weight="bold">3000</text>
<line x1="442.30" x2="442.30" y1="575.2" y2="582.6" stroke="#000" stroke-width="1.6"/>
<text x="442.30" y="598.5" text-anchor="middle" font-size="14.9" font-family="Liberation Sans, sans-serif" font-weight="bold">Control</text>
<line x1="488.90" x2="488.90" y1="575.2" y2="582.6" stroke="#000" stroke-width="1.6"/>
<text x="488.90" y="598.5" text-anchor="middle" font-size="14.9" font-family="Liberation Sans, sans-serif" font-weight="bold">1M</text>
<line x1="535.30" x2="535.30" y1="575.2" y2="582.6" stroke="#000" stroke-width="1.6"/>
<text x="535.30" y="598.5" text-anchor="middle" font-size="14.9" font-family="Liberation Sans, sans-serif" font-weight="bold">2M</text>
<line x1="581.40" x2="581.40" y1="575.2" y2="582.6" stroke="#000" stroke-width="1.6"/>
<text x="581.40" y="598.5" text-anchor="middle" font-size="14.9" font-family="Liberation Sans, sans-serif" font-weight="bold">3M</text>
<line x1="627.90" x2="627.90" y1="575.2" y2="582.6" stroke="#000" stroke-width="1.6"/>
<text x="626.50" y="598.5" text-anchor="middle" font-size="14.9" font-family="Liberation Sans, sans-serif" font-weight="bold">miR-21</text>
<text x="535.8" y="620.9" text-anchor="middle" font-size="14.9" font-family="Liberation Sans, sans-serif" font-weight="bold">Mismatchted sequences detection</text>
<text transform="translate(360.0,450.0) rotate(-90)" text-anchor="middle" font-size="14.9" font-family="Liberation Sans, sans-serif" font-weight="bold">Fluorescence intensity (<tspan font-style="italic">a.u.</tspan>)</text>
<text x="345.6" y="337.4" font-size="24.5" font-family="Liberation Sans, sans-serif" font-weight="bold">D</text>
</svg>
</body></html>
